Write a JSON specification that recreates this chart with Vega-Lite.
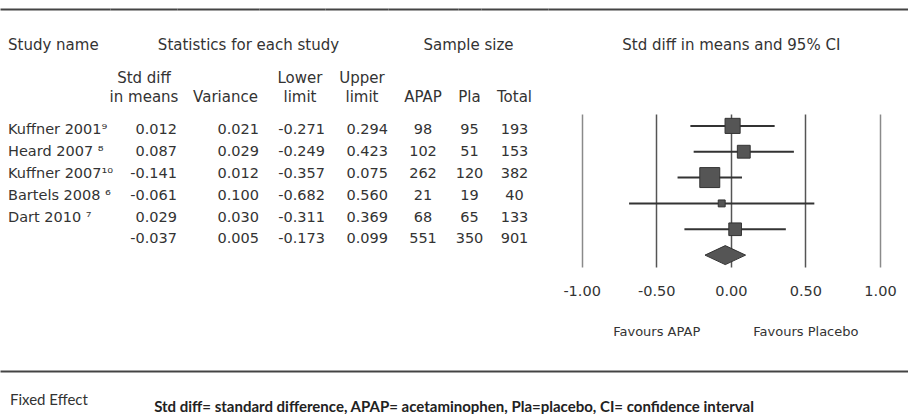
{
  "$schema": "https://vega.github.io/schema/vega-lite/v6.json",
  "padding": {"left": 0, "top": 9, "right": 0, "bottom": 0},
  "background": "white",
  "spacing": 32,
  "config": {
    "view": {"stroke": null},
    "locale": {"number": {"decimal": ".", "thousands": ",", "grouping": [3], "currency": ["$", ""], "minus": "-"}},
    "axis": {"grid": false, "domain": false, "ticks": false, "tickSize": 0, "labelAngle": 0, "labelFont": "DejaVu Sans", "labelColor": "#333", "labelFontSize": 15, "titleFont": "DejaVu Sans", "titleFontSize": 15, "titleFontWeight": "normal", "titleColor": "#333", "labelOverlap": false, "labelFlush": false, "labelLimit": 0},
    "concat": {"spacing": 0}
  },
  "data": {"values": [
    {"Study name": "Kuffner 2001⁹", "type": "study", "Std diff in means": 0.012, "Variance": 0.021, "Lower limit": -0.271, "Upper limit": 0.294, "APAP": 98, "Pla": 95, "Total": 193, "weight": 22.8},
    {"Study name": "Heard 2007 ⁸", "type": "study", "Std diff in means": 0.087, "Variance": 0.029, "Lower limit": -0.249, "Upper limit": 0.423, "APAP": 102, "Pla": 51, "Total": 153, "weight": 16.5},
    {"Study name": "Kuffner 2007¹⁰", "type": "study", "Std diff in means": -0.141, "Variance": 0.012, "Lower limit": -0.357, "Upper limit": 0.075, "APAP": 262, "Pla": 120, "Total": 382, "weight": 39.9},
    {"Study name": "Bartels 2008 ⁶", "type": "study", "Std diff in means": -0.061, "Variance": 0.100, "Lower limit": -0.682, "Upper limit": 0.560, "APAP": 21, "Pla": 19, "Total": 40, "weight": 4.8},
    {"Study name": "Dart 2010 ⁷", "type": "study", "Std diff in means": 0.029, "Variance": 0.030, "Lower limit": -0.311, "Upper limit": 0.369, "APAP": 68, "Pla": 65, "Total": 133, "weight": 16.0},
    {"Study name": "Fixed Effect", "type": "summary", "Std diff in means": -0.037, "Variance": 0.005, "Lower limit": -0.173, "Upper limit": 0.099, "APAP": 551, "Pla": 350, "Total": 901, "weight": 100}
  ]},
  "vconcat": [
    {
      "spacing": 0,
      "bounds": "flush",
      "hconcat": [
        {
          "width": 110, "height": 153,
          "transform": [{"fold": ["Study name"], "as": ["column", "val"]}],
          "mark": {"type": "text", "align": "left", "baseline": "middle", "font": "DejaVu Sans", "fontSize": 14.5, "color": "#333"},
          "encoding": {
            "x": {"field": "column", "type": "nominal", "bandPosition": 0.0727, "scale": {"type": "band", "paddingInner": 0, "paddingOuter": 0},
                  "axis": {"orient": "top", "offset": 105, "domain": true, "domainColor": "#444", "domainWidth": 2, "labelAlign": "left", "labelOffset": -47, "labelBaseline": "alphabetic", "labelPadding": -40, "title": null}},
            "y": {"field": "Study name", "type": "nominal", "sort": null, "scale": {"type": "point", "padding": 1.031, "align": 0.37}, "axis": null},
            "text": {"condition": {"test": "datum.type == 'summary'", "value": ""}, "field": "val", "type": "nominal"}
          }
        },
        {
          "width": 67, "height": 153,
          "transform": [{"fold": ["Std diff in means"], "as": ["column", "val"]}],
          "mark": {"type": "text", "align": "right", "baseline": "middle", "font": "DejaVu Sans", "fontSize": 14.5, "color": "#333"},
          "encoding": {
            "x": {"field": "column", "type": "nominal", "bandPosition": 1, "scale": {"type": "band", "paddingInner": 0, "paddingOuter": 0},
                  "axis": {"orient": "top", "offset": 105, "domain": true, "domainColor": "#444", "domainWidth": 2, "labelAlign": "center", "labelOffset": 0.5, "labelBaseline": "alphabetic", "labelPadding": -73.5, "labelLineHeight": 19, "labelExpr": "[slice(datum.label, 0, 8), slice(datum.label, 9)]",
                           "title": "Statistics for each study", "titleX": 138, "titleY": 40, "titleBaseline": "alphabetic", "titleAlign": "center", "titleAngle": 0}},
            "y": {"field": "Study name", "type": "nominal", "sort": null, "scale": {"type": "point", "padding": 1.031, "align": 0.37}, "axis": null},
            "text": {"field": "val", "type": "quantitative", "format": ".3f"}
          }
        },
        {
          "width": 82, "height": 153,
          "transform": [{"fold": ["Variance"], "as": ["column", "val"]}],
          "mark": {"type": "text", "align": "right", "baseline": "middle", "font": "DejaVu Sans", "fontSize": 14.5, "color": "#333"},
          "encoding": {
            "x": {"field": "column", "type": "nominal", "bandPosition": 1, "scale": {"type": "band", "paddingInner": 0, "paddingOuter": 0},
                  "axis": {"orient": "top", "offset": 105, "domain": true, "domainColor": "#444", "domainWidth": 2, "labelAlign": "center", "labelOffset": 7.5, "labelBaseline": "alphabetic", "labelPadding": -92.5, "title": null}},
            "y": {"field": "Study name", "type": "nominal", "sort": null, "scale": {"type": "point", "padding": 1.031, "align": 0.37}, "axis": null},
            "text": {"field": "val", "type": "quantitative", "format": ".3f"}
          }
        },
        {
          "width": 66, "height": 153,
          "transform": [{"fold": ["Lower limit"], "as": ["column", "val"]}],
          "mark": {"type": "text", "align": "right", "baseline": "middle", "font": "DejaVu Sans", "fontSize": 14.5, "color": "#333"},
          "encoding": {
            "x": {"field": "column", "type": "nominal", "bandPosition": 1, "scale": {"type": "band", "paddingInner": 0, "paddingOuter": 0},
                  "axis": {"orient": "top", "offset": 105, "domain": true, "domainColor": "#444", "domainWidth": 2, "labelAlign": "center", "labelOffset": 8, "labelBaseline": "alphabetic", "labelPadding": -73.5, "labelLineHeight": 19, "labelExpr": "split(datum.label, ' ')", "title": null}},
            "y": {"field": "Study name", "type": "nominal", "sort": null, "scale": {"type": "point", "padding": 1.031, "align": 0.37}, "axis": null},
            "text": {"field": "val", "type": "quantitative", "format": ".3f"}
          }
        },
        {
          "width": 63, "height": 153,
          "transform": [{"fold": ["Upper limit"], "as": ["column", "val"]}],
          "mark": {"type": "text", "align": "right", "baseline": "middle", "font": "DejaVu Sans", "fontSize": 14.5, "color": "#333"},
          "encoding": {
            "x": {"field": "column", "type": "nominal", "bandPosition": 1, "scale": {"type": "band", "paddingInner": 0, "paddingOuter": 0},
                  "axis": {"orient": "top", "offset": 105, "domain": true, "domainColor": "#444", "domainWidth": 2, "labelAlign": "center", "labelOffset": 5.5, "labelBaseline": "alphabetic", "labelPadding": -73.5, "labelLineHeight": 19, "labelExpr": "split(datum.label, ' ')", "title": null}},
            "y": {"field": "Study name", "type": "nominal", "sort": null, "scale": {"type": "point", "padding": 1.031, "align": 0.37}, "axis": null},
            "text": {"field": "val", "type": "quantitative", "format": ".3f"}
          }
        },
        {
          "width": 70, "height": 153,
          "transform": [{"fold": ["APAP"], "as": ["column", "val"]}],
          "mark": {"type": "text", "align": "center", "baseline": "middle", "font": "DejaVu Sans", "fontSize": 14.5, "color": "#333"},
          "encoding": {
            "x": {"field": "column", "type": "nominal", "scale": {"type": "band", "paddingInner": 0, "paddingOuter": 0},
                  "axis": {"orient": "top", "offset": 105, "domain": true, "domainColor": "#444", "domainWidth": 2, "labelAlign": "center", "labelBaseline": "alphabetic", "labelPadding": -92.5,
                           "title": "Sample size", "titleX": 80, "titleY": 40, "titleBaseline": "alphabetic", "titleAlign": "center", "titleAngle": 0}},
            "y": {"field": "Study name", "type": "nominal", "sort": null, "scale": {"type": "point", "padding": 1.031, "align": 0.37}, "axis": null},
            "text": {"field": "val", "type": "quantitative", "format": "d"}
          }
        },
        {
          "width": 23, "height": 153,
          "transform": [{"fold": ["Pla"], "as": ["column", "val"]}],
          "mark": {"type": "text", "align": "center", "baseline": "middle", "font": "DejaVu Sans", "fontSize": 14.5, "color": "#333"},
          "encoding": {
            "x": {"field": "column", "type": "nominal", "scale": {"type": "band", "paddingInner": 0, "paddingOuter": 0},
                  "axis": {"orient": "top", "offset": 105, "domain": true, "domainColor": "#444", "domainWidth": 2, "labelAlign": "center", "labelBaseline": "alphabetic", "labelPadding": -92.5, "title": null}},
            "y": {"field": "Study name", "type": "nominal", "sort": null, "scale": {"type": "point", "padding": 1.031, "align": 0.37}, "axis": null},
            "text": {"field": "val", "type": "quantitative", "format": "d"}
          }
        },
        {
          "width": 67, "height": 153,
          "transform": [{"fold": ["Total"], "as": ["column", "val"]}],
          "mark": {"type": "text", "align": "center", "baseline": "middle", "font": "DejaVu Sans", "fontSize": 14.5, "color": "#333"},
          "encoding": {
            "x": {"field": "column", "type": "nominal", "scale": {"type": "band", "paddingInner": 0, "paddingOuter": 0},
                  "axis": {"orient": "top", "offset": 105, "domain": true, "domainColor": "#444", "domainWidth": 2, "labelAlign": "center", "labelBaseline": "alphabetic", "labelPadding": -92.5, "title": null}},
            "y": {"field": "Study name", "type": "nominal", "sort": null, "scale": {"type": "point", "padding": 1.031, "align": 0.37}, "axis": null},
            "text": {"field": "val", "type": "quantitative", "format": "d"}
          }
        },
        {
          "width": 360, "height": 153,
          "resolve": {"axis": {"x": "independent"}},
          "encoding": {
            "y": {"field": "Study name", "type": "nominal", "sort": null, "scale": {"type": "point", "padding": 0.46}, "axis": null}
          },
          "layer": [
            {
              "transform": [{"filter": "datum.type == 'study'"}],
              "mark": {"type": "rule", "color": "#333", "strokeWidth": 2},
              "encoding": {
                "x": {"field": "Lower limit", "type": "quantitative", "scale": {"domain": [-1.2256, 1.188], "nice": false, "zero": false},
                      "axis": {"orient": "top", "offset": 105, "domain": true, "domainColor": "#444", "domainWidth": 2, "labels": false, "ticks": false, "grid": false,
                               "title": "Std diff in means and 95% CI", "titleX": 182.8, "titleY": 40, "titleBaseline": "alphabetic", "titleAlign": "center", "titleAngle": 0}},
                "x2": {"field": "Upper limit"}
              }
            },
            {
              "transform": [{"filter": "datum.type == 'study'"}],
              "mark": {"type": "point", "shape": "square", "filled": true, "color": "#555", "stroke": "#333", "strokeWidth": 1, "opacity": 1},
              "encoding": {
                "x": {"field": "Std diff in means", "type": "quantitative", "scale": {"domain": [-1.2256, 1.188], "nice": false, "zero": false},
                      "axis": {"orient": "bottom", "values": [-1, -0.5, 0, 0.5, 1], "format": ".2f", "domain": false, "ticks": false, "grid": true,
                               "gridColor": {"condition": {"test": "abs(datum.value) == 1", "value": "#8a8a8a"}, "value": "#555"}, "gridWidth": 1.5,
                               "labelPadding": 24.5, "labelBaseline": "middle", "labelFontSize": 14.5, "title": null}},
                "size": {"field": "weight", "type": "quantitative", "scale": {"domain": [0, 40], "range": [0, 400]}, "legend": null}
              }
            },
            {
              "transform": [{"filter": "datum.type == 'summary'"}],
              "mark": {"type": "point", "shape": "M-1,0L0,-0.468L1,0L0,0.468Z", "size": 1648, "filled": true, "color": "#555", "stroke": "#333", "strokeWidth": 1, "opacity": 1},
              "encoding": {
                "x": {"field": "Std diff in means", "type": "quantitative", "scale": {"domain": [-1.2256, 1.188], "nice": false, "zero": false},
                      "axis": {"orient": "bottom", "values": [-0.5, 0.5], "labelExpr": "datum.value < 0 ? 'Favours APAP' : 'Favours Placebo'", "domain": false, "ticks": false, "grid": false,
                               "labelPadding": 64.5, "labelBaseline": "middle", "labelFontSize": 13, "title": null}}
              }
            }
          ]
        }
      ]
    },
    {
      "width": 908, "height": 45,
      "layer": [
        {
          "transform": [{"filter": "datum.type == 'summary'"}],
          "mark": {"type": "text", "align": "left", "baseline": "middle", "font": "Lato", "fontSize": 15, "dy": 6.5, "color": "#333"},
          "encoding": {
            "x": {"field": "Study name", "type": "nominal", "bandPosition": 0.011, "scale": {"type": "band", "paddingInner": 0, "paddingOuter": 0},
                  "axis": {"orient": "top", "domain": true, "domainColor": "#444", "domainWidth": 2, "labels": false, "ticks": false, "title": null}},
            "text": {"field": "Study name", "type": "nominal"}
          }
        },
        {
          "data": {"values": [{"note": "Std diff= standard difference, APAP= acetaminophen, Pla=placebo, CI= confidence interval"}]},
          "mark": {"type": "text", "align": "center", "baseline": "middle", "font": "Lato", "fontWeight": "bold", "fontSize": 15, "dy": 13.5, "color": "#222"},
          "encoding": {"text": {"field": "note", "type": "nominal"}}
        }
      ]
    }
  ]
}
